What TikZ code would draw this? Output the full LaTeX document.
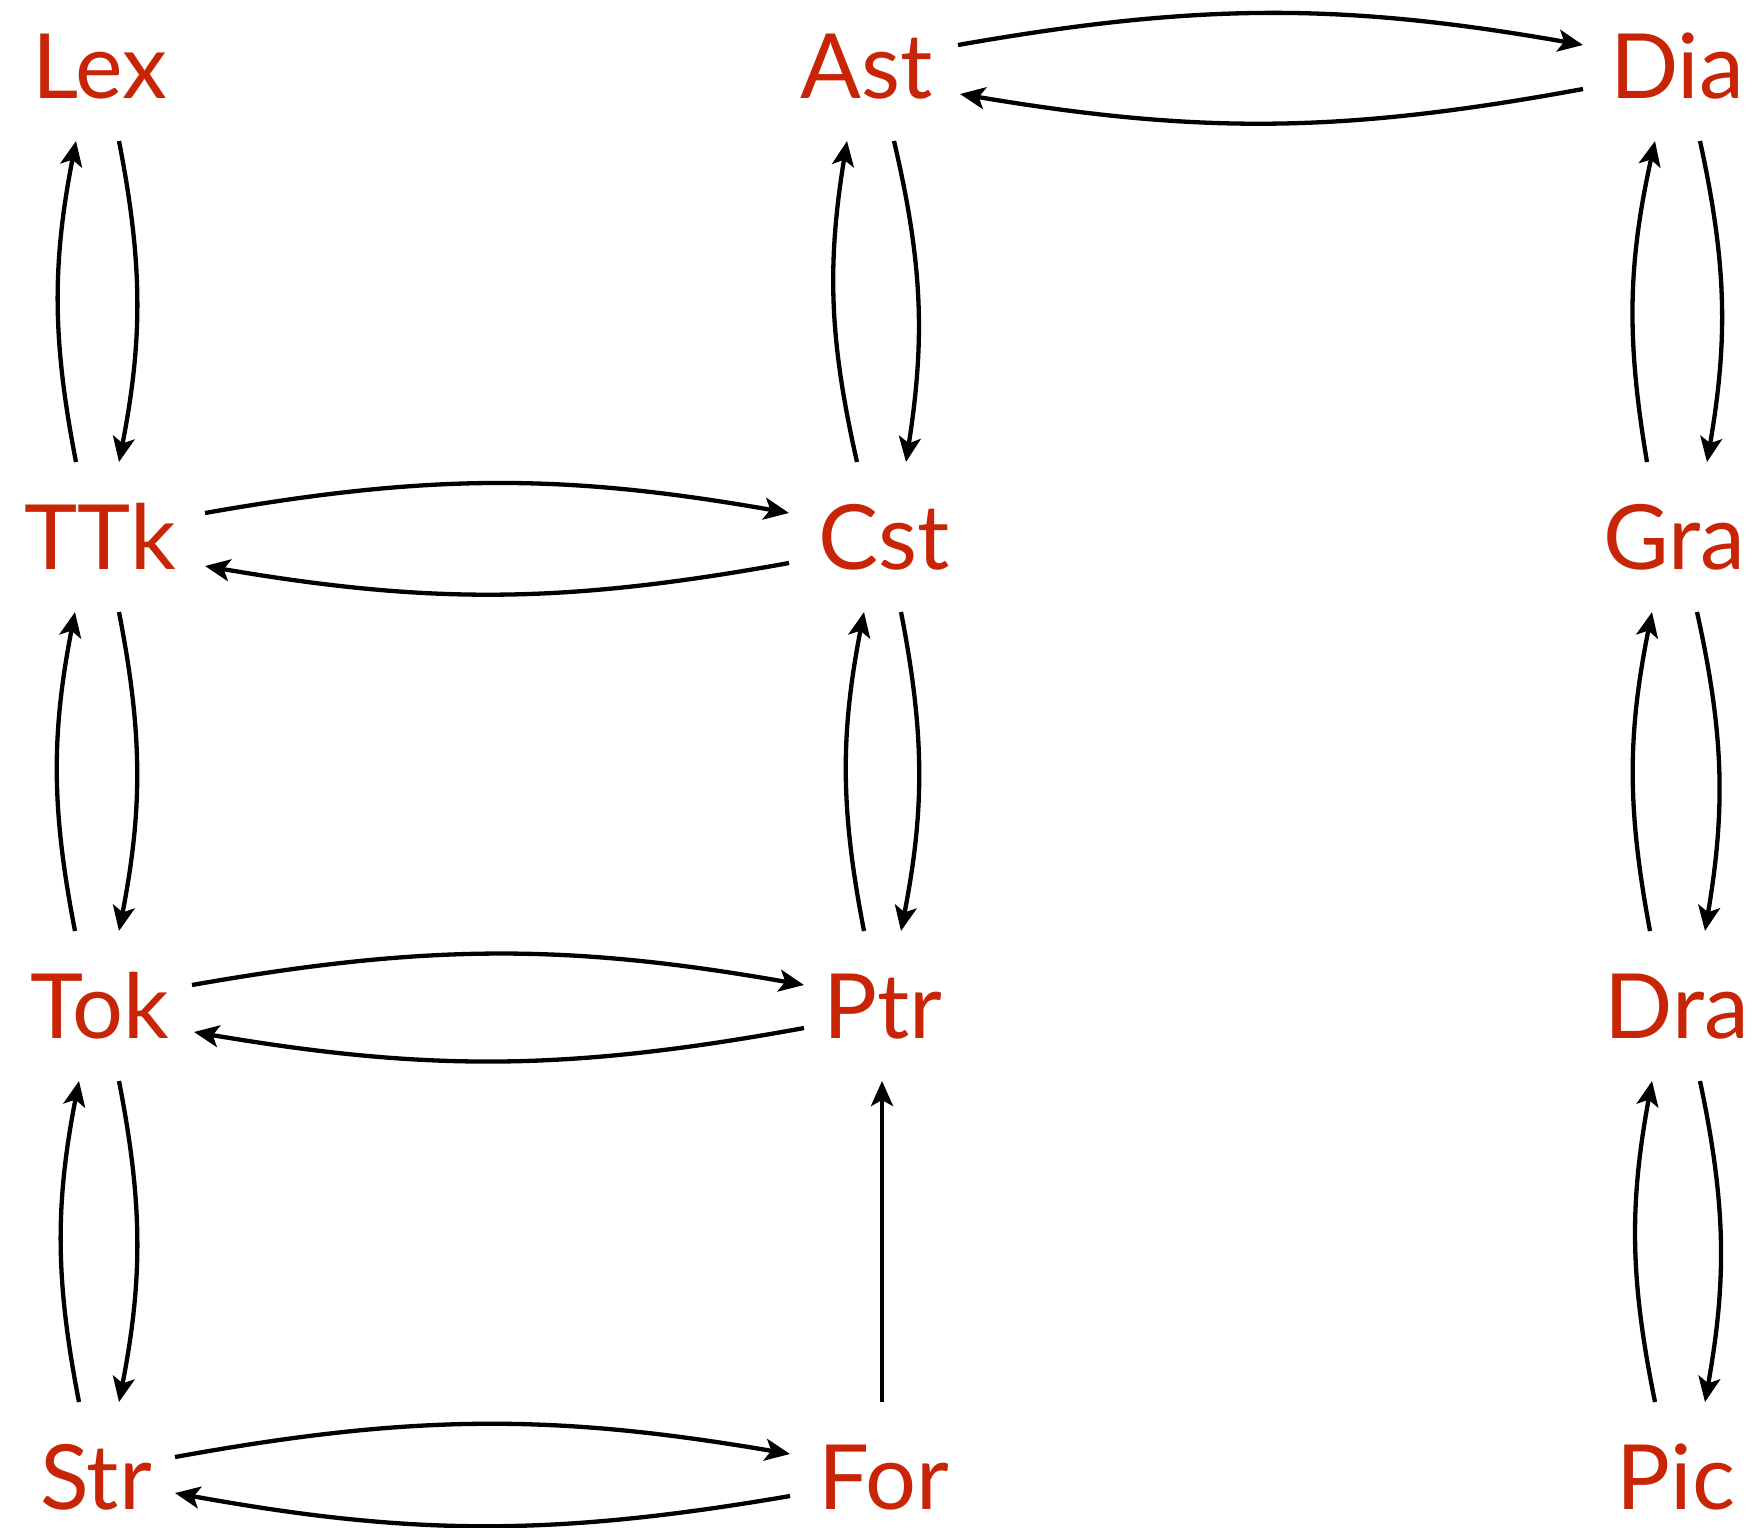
\documentclass[tikz,border=0pt]{standalone}
\usepackage{fontspec}
\setmainfont{Lato}
\usetikzlibrary{arrows.meta}
\definecolor{lblred}{RGB}{200,36,6}
\begin{document}
\begin{tikzpicture}[x=1pt,y=1pt,
  lbl/.style={text=lblred, font=\fontsize{90}{90}\selectfont, text height=65pt, text depth=0pt, inner sep=0pt, anchor=center},
  arr/.style={line width=4.3pt, -{Stealth[length=25pt,width=22pt,inset=6pt]}},
  vb/.style={arr, bend left=11},
  hb/.style={arr, bend left=10}]
\useasboundingbox (0,0) rectangle (1759,-1527);
\node[lbl] (Lex) at (100,-66) {Lex};
\node[lbl] (Ast) at (867,-66) {Ast};
\node[lbl] (Dia) at (1677,-66) {Dia};
\node[lbl] (TTk) at (100,-537) {TTk};
\node[lbl] (Cst) at (884,-537) {Cst};
\node[lbl] (Gra) at (1674,-537) {Gra};
\node[lbl] (Tok) at (100,-1006) {Tok};
\node[lbl] (Ptr) at (883,-1006) {Ptr};
\node[lbl] (Dra) at (1677,-1006) {Dra};
\node[lbl] (Str) at (96,-1477) {Str};
\node[lbl] (For) at (884,-1477) {For};
\node[lbl] (Pic) at (1676,-1477) {Pic};
% left column
\draw[vb] ([shift={(-24,75)}]TTk.center) to ([shift={(-24,-75)}]Lex.center);
\draw[vb] ([shift={(19,-75)}]Lex.center) to ([shift={(19,75)}]TTk.center);
\draw[vb] ([shift={(-25,75)}]Tok.center) to ([shift={(-25,-75)}]TTk.center);
\draw[vb] ([shift={(19,-75)}]TTk.center) to ([shift={(19,75)}]Tok.center);
\draw[vb] ([shift={(-17,75)}]Str.center) to ([shift={(-21,-75)}]Tok.center);
\draw[vb] ([shift={(19,-75)}]Tok.center) to ([shift={(23,75)}]Str.center);
% middle column
\draw[vb] ([shift={(-27,75)}]Cst.center) to ([shift={(-20,-75)}]Ast.center);
\draw[vb] ([shift={(27,-75)}]Ast.center) to ([shift={(22,75)}]Cst.center);
\draw[vb] ([shift={(-19,75)}]Ptr.center) to ([shift={(-20,-75)}]Cst.center);
\draw[vb] ([shift={(17,-75)}]Cst.center) to ([shift={(18,75)}]Ptr.center);
\draw[arr] ([shift={(-2,75)}]For.center) -- ([shift={(-1,-75)}]Ptr.center);
% right column
\draw[vb] ([shift={(-27,75)}]Gra.center) to ([shift={(-22,-75)}]Dia.center);
\draw[vb] ([shift={(23,-75)}]Dia.center) to ([shift={(33,75)}]Gra.center);
\draw[vb] ([shift={(-27,75)}]Dra.center) to ([shift={(-22,-75)}]Gra.center);
\draw[vb] ([shift={(23,-75)}]Gra.center) to ([shift={(28,75)}]Dra.center);
\draw[vb] ([shift={(-21,75)}]Pic.center) to ([shift={(-25,-75)}]Dra.center);
\draw[vb] ([shift={(23,-75)}]Dra.center) to ([shift={(29,75)}]Pic.center);
% horizontal
\draw[hb] ([shift={(91,21)}]Ast.center) to ([shift={(-94,21)}]Dia.center);
\draw[hb] ([shift={(-94,-23)}]Dia.center) to ([shift={(93,-28)}]Ast.center);
\draw[hb] ([shift={(105,24)}]TTk.center) to ([shift={(-95,24)}]Cst.center);
\draw[hb] ([shift={(-95,-26)}]Cst.center) to ([shift={(105,-29)}]TTk.center);
\draw[hb] ([shift={(92,21)}]Tok.center) to ([shift={(-79,21)}]Ptr.center);
\draw[hb] ([shift={(-79,-22)}]Ptr.center) to ([shift={(94,-26)}]Tok.center);
\draw[hb] ([shift={(79,20)}]Str.center) to ([shift={(-94,23)}]For.center);
\draw[hb] ([shift={(-94,-19)}]For.center) to ([shift={(79,-16)}]Str.center);
\end{tikzpicture}
\end{document}
